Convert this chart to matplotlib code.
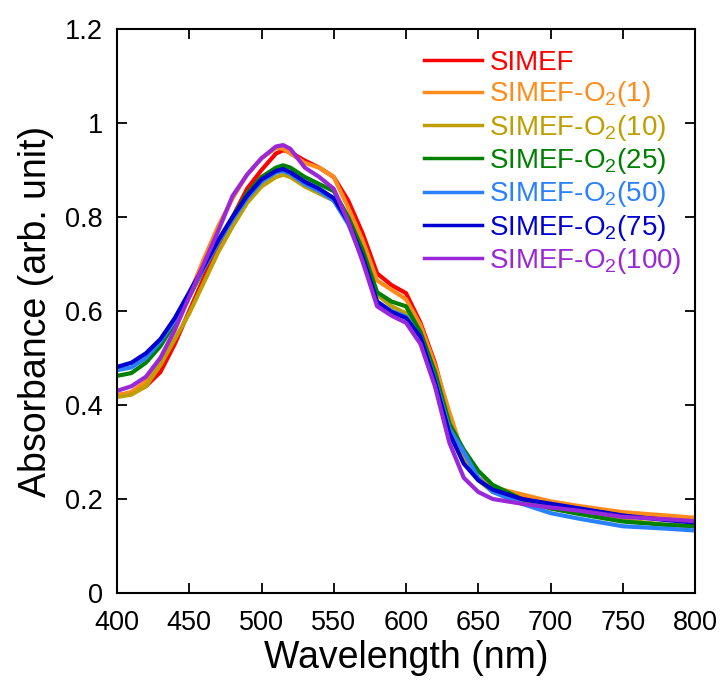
import matplotlib
matplotlib.use("Agg")
import matplotlib.pyplot as plt

plt.rcParams['font.family'] = ['Liberation Sans', 'DejaVu Sans']
plt.rcParams['mathtext.default'] = 'regular'

wl = [400, 410, 420, 430, 440, 450, 460, 470, 480, 490, 500, 510, 515, 520, 530, 540,
      550, 560, 570, 580, 590, 600, 610, 620, 630, 640, 650, 660, 680, 700, 720, 750, 780, 800]

simef = [0.421, 0.425, 0.44, 0.47, 0.53, 0.60, 0.67, 0.74, 0.80, 0.86, 0.90, 0.935, 0.942, 0.938, 0.92, 0.905,
         0.885, 0.835, 0.765, 0.68, 0.655, 0.638, 0.575, 0.49, 0.375, 0.29, 0.245, 0.225, 0.205, 0.19, 0.18, 0.168, 0.16, 0.155]
o2_1 = [0.42, 0.428, 0.45, 0.49, 0.56, 0.635, 0.71, 0.78, 0.84, 0.89, 0.925, 0.947, 0.945, 0.935, 0.915, 0.905,
        0.885, 0.82, 0.75, 0.665, 0.645, 0.625, 0.57, 0.485, 0.385, 0.29, 0.245, 0.225, 0.21, 0.195, 0.185, 0.172, 0.165, 0.16]
o2_10 = [0.417, 0.422, 0.44, 0.485, 0.54, 0.595, 0.66, 0.725, 0.78, 0.83, 0.865, 0.885, 0.89, 0.885, 0.865, 0.85,
         0.835, 0.79, 0.72, 0.635, 0.61, 0.595, 0.55, 0.47, 0.37, 0.285, 0.24, 0.215, 0.195, 0.18, 0.17, 0.155, 0.145, 0.142]
o2_25 = [0.462, 0.468, 0.49, 0.525, 0.575, 0.63, 0.69, 0.75, 0.80, 0.85, 0.885, 0.905, 0.91, 0.905, 0.885, 0.87,
         0.855, 0.80, 0.73, 0.64, 0.62, 0.61, 0.555, 0.47, 0.36, 0.305, 0.26, 0.23, 0.2, 0.18, 0.168, 0.152, 0.145, 0.142]
o2_50 = [0.474, 0.48, 0.50, 0.535, 0.58, 0.635, 0.69, 0.745, 0.795, 0.84, 0.875, 0.895, 0.898, 0.892, 0.87, 0.855,
         0.835, 0.785, 0.71, 0.62, 0.60, 0.588, 0.545, 0.455, 0.35, 0.30, 0.245, 0.215, 0.19, 0.17, 0.158, 0.142, 0.137, 0.133]
o2_75 = [0.481, 0.49, 0.51, 0.54, 0.585, 0.64, 0.695, 0.75, 0.80, 0.845, 0.88, 0.898, 0.902, 0.895, 0.875, 0.86,
         0.84, 0.79, 0.715, 0.62, 0.598, 0.585, 0.545, 0.45, 0.34, 0.275, 0.24, 0.22, 0.2, 0.19, 0.18, 0.165, 0.155, 0.15]
o2_100 = [0.43, 0.44, 0.46, 0.50, 0.56, 0.63, 0.70, 0.77, 0.845, 0.89, 0.925, 0.95, 0.953, 0.945, 0.905, 0.885,
          0.86, 0.79, 0.705, 0.61, 0.59, 0.575, 0.53, 0.44, 0.32, 0.245, 0.215, 0.20, 0.19, 0.182, 0.175, 0.162, 0.157, 0.153]

labels = ['SIMEF', 'SIMEF-O$_2$(1)', 'SIMEF-O$_2$(10)', 'SIMEF-O$_2$(25)',
          'SIMEF-O$_2$(50)', 'SIMEF-O$_2$(75)', 'SIMEF-O$_2$(100)']
colors = ['#ff0000', '#ff8c1a', '#bf9f00', '#008000', '#2a80ff', '#0000d0', '#9a28d8']
series = [simef, o2_1, o2_10, o2_25, o2_50, o2_75, o2_100]

xticks = [400, 450, 500, 550, 600, 650, 700, 750, 800]
yticks = [0, 0.2, 0.4, 0.6, 0.8, 1.0, 1.2]
yticklabels = ['0', '0.2', '0.4', '0.6', '0.8', '1', '1.2']

fig = plt.figure(figsize=(7.2, 6.84), dpi=100)
ax = fig.add_axes([117/720, 1 - 593/684, (695-117)/720, (593-29)/684])

for y, c, lab in zip(series, colors, labels):
    ax.plot(wl, y, color=c, lw=3, label=lab)

ax.set_xlim(400, 800)
ax.set_ylim(0, 1.2)
ax.set_xticks(xticks)
ax.set_yticks(yticks)
ax.set_yticklabels(yticklabels)
ax.tick_params(direction='in', length=7, width=1.3, top=True, right=True,
               labelsize=19.5)
ax.tick_params(axis='x', pad=12)
ax.tick_params(axis='y', pad=10)
for s in ax.spines.values():
    s.set_linewidth(1.5)
ax.set_xlabel('Wavelength (nm)', fontsize=27, labelpad=3)
ax.set_ylabel('Absorbance (arb. unit)', fontsize=27, labelpad=8)

leg = ax.legend(loc='upper left', bbox_to_anchor=((424-117)/578, (593-50)/564),
                frameon=False, fontsize=20, labelcolor='linecolor',
                handlelength=2.1, handletextpad=0.25, labelspacing=0.12,
                borderpad=0, borderaxespad=0)
for h in leg.get_lines():
    h.set_linewidth(2.5)

fig.savefig('out.png', dpi=100)
